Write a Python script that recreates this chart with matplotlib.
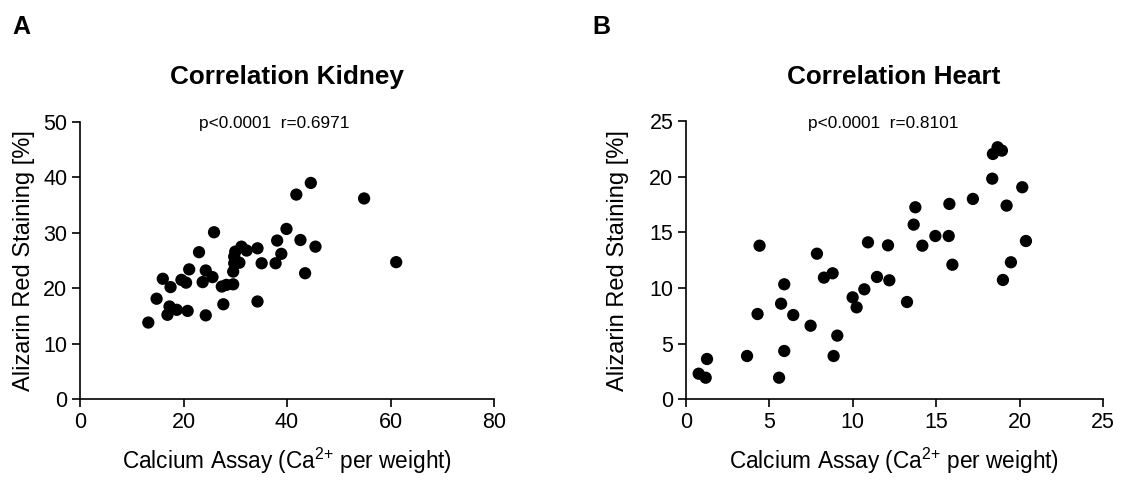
import matplotlib
matplotlib.use("Agg")
import matplotlib.pyplot as plt

plt.rcParams['font.family'] = ['Liberation Sans', 'DejaVu Sans']
plt.rcParams['mathtext.fontset'] = 'custom'
plt.rcParams['mathtext.rm'] = 'Liberation Sans'
plt.rcParams['mathtext.it'] = 'Liberation Sans:italic'
plt.rcParams['mathtext.bf'] = 'Liberation Sans:bold'
plt.rcParams['mathtext.default'] = 'regular'

# Kidney data
kidney_x = [13.2, 14.8, 16.0, 17.5, 16.9, 17.3, 18.7, 20.8, 19.6, 20.5, 21.1, 23.0,
            23.7, 24.3, 24.3, 25.6, 25.9, 27.4, 28.3, 29.6, 27.7, 29.6, 29.8, 29.8,
            30.0, 30.8, 31.2, 32.2, 34.3, 35.1, 34.3, 37.8, 38.1, 38.9, 39.9, 41.8,
            42.6, 43.5, 44.6, 45.5, 54.9, 61.1]
kidney_y = [13.8, 18.1, 21.7, 20.2, 15.2, 16.7, 16.1, 15.9, 21.5, 21.0, 23.4, 26.5,
            21.1, 23.2, 15.1, 22.0, 30.1, 20.3, 20.6, 20.7, 17.1, 23.0, 24.5, 25.7,
            26.6, 24.6, 27.5, 26.8, 27.2, 24.5, 17.6, 24.5, 28.6, 26.2, 30.7, 36.9,
            28.7, 22.7, 39.0, 27.5, 36.2, 24.7]

# Heart data
heart_x = [0.76, 1.18, 1.26, 3.66, 4.29, 4.41, 5.58, 5.70, 5.89, 5.89, 6.43, 7.47,
           7.85, 8.27, 8.79, 8.85, 9.07, 9.99, 10.23, 10.69, 10.91, 11.45, 12.11,
           12.19, 13.25, 13.65, 13.75, 14.17, 14.95, 15.75, 15.79, 15.97, 17.2,
           18.36, 18.4, 18.68, 18.94, 19.0, 19.22, 19.48, 20.16, 20.38]
heart_y = [2.3, 1.94, 3.62, 3.89, 7.66, 13.8, 1.94, 8.59, 10.33, 4.34, 7.57, 6.61,
           13.08, 10.93, 11.32, 3.89, 5.72, 9.16, 8.26, 9.88, 14.1, 10.99, 13.83,
           10.69, 8.74, 15.69, 17.25, 13.8, 14.67, 14.67, 17.55, 12.09, 18.0,
           19.82, 22.04, 22.64, 22.34, 10.72, 17.4, 12.31, 19.05, 14.22]

kidney_xticks = [0, 20, 40, 60, 80]
kidney_yticks = [0, 10, 20, 30, 40, 50]
heart_xticks = [0, 5, 10, 15, 20, 25]
heart_yticks = [0, 5, 10, 15, 20, 25]

W, H = 1122, 480
fig = plt.figure(figsize=(W / 100, H / 100), dpi=100)


def px_axes(l, r, t, b):
    return fig.add_axes([l / W, 1 - b / H, (r - l) / W, (b - t) / H])


ax1 = px_axes(80, 494, 122, 399)
ax2 = px_axes(686, 1103, 121, 399.3)

panels = [
    (ax1, kidney_x, kidney_y, kidney_xticks, kidney_yticks, "Correlation Kidney",
     "p<0.0001  r=0.6971", "A", 287, 274, 12, -0.136),
    (ax2, heart_x, heart_y, heart_xticks, heart_yticks, "Correlation Heart",
     "p<0.0001  r=0.8101", "B", 894, 883, 592, -0.163),
]

for ax, xs, ys, xt, yt, title, ann, letter, tx, annx, lx, ylx in panels:
    ax.scatter(xs, ys, s=78, color='black', edgecolors='none', zorder=3, clip_on=False)
    ax.set_xlim(xt[0], xt[-1])
    ax.set_ylim(yt[0], yt[-1])
    ax.set_xticks(xt)
    ax.set_yticks(yt)
    for s in ['top', 'right']:
        ax.spines[s].set_visible(False)
    for s in ['left', 'bottom']:
        ax.spines[s].set_linewidth(1.2)
    ax.tick_params(direction='out', length=6, width=1.2, labelsize=15.5, pad=3)
    xl = ax.set_xlabel("Calcium Assay (Ca$^{2{+}}$ per weight)", fontsize=16.3)
    xl.set_verticalalignment('center')
    ax.xaxis.set_label_coords(0.5, -0.222)
    yl = ax.set_ylabel("Alizarin Red Staining [%]", fontsize=17)
    yl.set_verticalalignment('center')
    ax.yaxis.set_label_coords(ylx, 0.5)
    fig.text(tx / W, 1 - 77 / H, title, fontsize=18.8, fontweight='bold',
             ha='center', va='center')
    fig.text(annx / W, 1 - 123.5 / H, ann, fontsize=12.4, ha='center', va='center')
    fig.text(lx / W, 1 - 27 / H, letter, fontsize=18, fontweight='bold',
             ha='left', va='center')

fig.savefig("out.png", dpi=100)
